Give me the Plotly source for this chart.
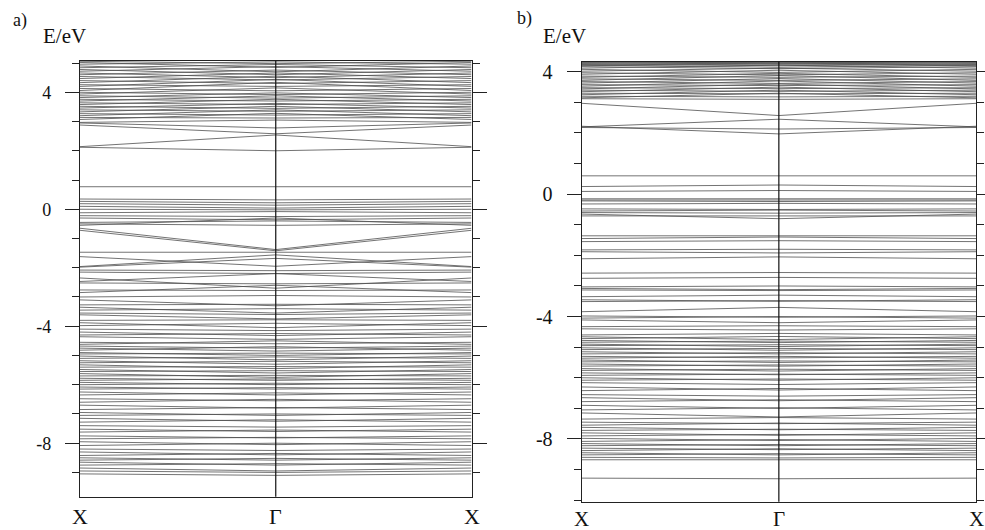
import plotly.graph_objects as go

# k-path: X - Gamma - X
k_labels = ["X", "Γ", "X"]
k_pos = [0, 1, 2]

# ---- panel a) band energies (eV) at X and at Gamma ----
a_E_X = [
    5.06, 5.02, 4.96, 4.90, 4.84, 4.78, 4.72, 4.66, 4.60, 4.54, 4.47, 4.40, 4.33, 4.26,
    4.20, 4.13, 4.06, 4.00, 3.94, 3.88, 3.82, 3.76, 3.70, 3.64, 3.58, 3.52, 3.46, 3.40,
    3.33, 3.27, 3.20, 3.14, 3.07, 2.97, 2.95, 2.88, 2.14, 2.12,
    0.77, 0.35, 0.27, 0.19, 0.10, 0.00, -0.12, -0.22, -0.30, -0.45, -0.50, -0.55, -0.65,
    -0.72, -1.47, -1.96, -1.98, -1.62, -2.08, -2.15, -2.47, -2.52, -2.35, -2.76, -2.85,
    -3.00, -3.10, -3.27, -3.35, -3.45, -3.55, -3.61, -3.80, -3.88, -3.98, -4.10, -4.20,
    -4.30, -4.36, -4.55, -4.62, -4.68, -4.75, -4.82, -4.90, -4.95, -5.02, -5.10, -5.18,
    -5.25, -5.32, -5.40, -5.48, -5.55, -5.62, -5.70, -5.78, -5.85, -5.92, -6.00, -6.08,
    -6.15, -6.25, -6.35, -6.48, -6.60, -6.70, -6.85, -6.95, -7.05, -7.15, -7.28, -7.40,
    -7.52, -7.62, -7.75, -7.85, -7.95, -8.08, -8.20, -8.30, -8.42, -8.50, -8.58, -8.65,
    -8.75, -8.85, -8.95, -9.05,
]
a_E_G = [
    4.98, 4.85, 5.04, 4.70, 4.95, 4.60, 4.88, 4.50, 4.76, 4.42, 4.66, 4.30, 4.55, 4.20,
    4.44, 4.05, 4.34, 3.92, 4.15, 3.80, 3.98, 3.70, 3.88, 3.58, 3.76, 3.45, 3.62, 3.35,
    3.52, 3.22, 3.40, 3.12, 3.28, 3.05, 2.78, 2.58, 2.54, 2.00,
    0.77, 0.32, 0.22, 0.14, 0.04, -0.02, -0.08, -0.25, -0.36, -0.40, -0.55, -0.30, -1.38,
    -1.42, -1.47, -1.56, -1.68, -1.95, -2.10, -2.20, -2.20, -2.55, -2.70, -2.78, -2.60,
    -2.95, -3.30, -3.25, -3.55, -3.40, -3.60, -3.75, -3.78, -4.05, -3.90, -4.15, -4.32,
    -4.25, -4.45, -4.60, -4.50, -4.75, -4.85, -4.70, -5.00, -4.92, -5.15, -5.05, -5.30,
    -5.20, -5.45, -5.38, -5.60, -5.52, -5.75, -5.68, -5.85, -5.80, -6.00, -5.95, -6.15,
    -6.10, -6.35, -6.28, -6.55, -6.50, -6.80, -6.78, -7.05, -7.00, -7.25, -7.20, -7.45,
    -7.60, -7.55, -7.82, -7.80, -8.05, -8.00, -8.25, -8.40, -8.35, -8.58, -8.52, -8.75,
    -8.70, -8.95, -9.00, -9.10,
]

# ---- panel b) band energies (eV) at X and at Gamma ----
b_E_X = [
    4.32, 4.30, 4.28, 4.26, 4.24, 4.22, 4.20, 4.17, 4.12, 4.08, 4.02, 3.97, 3.92, 3.86,
    3.82, 3.77, 3.72, 3.68, 3.63, 3.58, 3.53, 3.48, 3.44, 3.40, 3.35, 3.30, 3.25, 3.20,
    3.15, 3.12, 2.97, 2.20, 2.18, 2.22,
    0.60, 0.25, 0.09, -0.15, -0.19, -0.22, -0.32, -0.48, -0.55, -0.60, -0.65, -0.71,
    -1.36, -1.45, -1.55, -1.82, -1.88, -2.11, -2.58, -2.75, -3.03, -3.08, -3.13, -3.35,
    -3.45, -3.51, -3.84, -3.98, -4.05, -4.11, -4.33, -4.40,
    -4.60, -4.66, -4.72, -4.78, -4.84, -4.90, -4.95, -5.02, -5.08, -5.15, -5.22, -5.30,
    -5.36, -5.42, -5.48, -5.55, -5.62, -5.70, -5.76, -5.84, -5.92, -6.00, -6.08, -6.16,
    -6.30, -6.42, -6.55, -6.65, -6.78, -6.90, -7.05, -7.15,
    -7.35, -7.45, -7.55, -7.62, -7.72, -7.80, -7.90, -7.98, -8.08, -8.15, -8.22, -8.30,
    -8.38, -8.45, -8.52, -8.60, -8.68, -9.28,
]
b_E_G = [
    4.30, 4.25, 4.32, 4.20, 4.28, 4.15, 4.26, 4.10, 4.22, 3.98, 4.12, 3.90, 4.05, 3.82,
    3.95, 3.72, 3.88, 3.62, 3.78, 3.55, 3.70, 3.45, 3.60, 3.36, 3.50, 3.28, 3.40, 3.18,
    3.30, 3.10, 2.57, 2.45, 2.13, 1.97,
    0.61, 0.30, 0.12, -0.15, -0.19, -0.24, -0.30, -0.50, -0.52, -0.62, -0.80, -0.70,
    -1.36, -1.40, -1.52, -1.80, -1.92, -2.05, -2.56, -2.72, -3.00, -3.12, -3.15, -3.30,
    -3.50, -3.48, -3.70, -4.02, -4.00, -4.20, -4.30, -4.44,
    -4.55, -4.75, -4.65, -4.85, -4.80, -4.98, -4.92, -5.10, -5.04, -5.22, -5.18, -5.35,
    -5.30, -5.50, -5.45, -5.62, -5.58, -5.78, -5.72, -5.90, -5.88, -6.08, -6.04, -6.22,
    -6.40, -6.35, -6.60, -6.75, -6.72, -7.00, -6.98, -7.28,
    -7.30, -7.50, -7.48, -7.70, -7.68, -7.88, -7.85, -8.05, -8.02, -8.22, -8.18, -8.35,
    -8.32, -8.52, -8.48, -8.62, -8.68, -9.30,
]

# y tick labels
a_tickvals = [4, 0, -4, -8]
b_tickvals = [4, 0, -4, -8]
a_ticktext = ["4", "0", "-4", "-8"]
b_ticktext = ["4", "0", "-4", "-8"]
a_yrange = [-9.83, 5.08]
b_yrange = [-10.05, 4.33]

SERIF = "Liberation Serif"
LINE_COLOR = "rgba(80,80,80,0.8)"


def band_xy(ex, eg):
    xs, ys = [], []
    for e1, e2 in zip(ex, eg):
        xs += [k_pos[0], k_pos[1], k_pos[2], None]
        ys += [e1, e2, e1, None]
    return xs, ys


fig = go.Figure()
xa, ya = band_xy(a_E_X, a_E_G)
fig.add_trace(go.Scatter(x=xa, y=ya, mode="lines", xaxis="x", yaxis="y",
                         line=dict(color=LINE_COLOR, width=1), hoverinfo="skip",
                         showlegend=False))
xb, yb = band_xy(b_E_X, b_E_G)
fig.add_trace(go.Scatter(x=xb, y=yb, mode="lines", xaxis="x2", yaxis="y2",
                         line=dict(color=LINE_COLOR, width=1), hoverinfo="skip",
                         showlegend=False))

W, H = 985, 530


def xdom(l, r):
    return [l / W, r / W]


def ydom(t, b):
    return [1 - b / H, 1 - t / H]


axis_common = dict(showline=True, linecolor="#222", linewidth=1.3, mirror=True,
                   showgrid=False, zeroline=False, automargin=False)

xcommon = dict(axis_common, range=[0, 2], tickmode="array", tickvals=k_pos,
               ticks="", showticklabels=False)


def ycommon(rng, tv, tt, fs, standoff):
    return dict(axis_common, range=rng, tickmode="array", tickvals=tv, ticktext=tt,
                ticks="outside", ticklen=14, tickwidth=1.4, tickcolor="#222",
                mirror="ticks",
                minor=dict(ticks="outside", ticklen=7, tickwidth=1.4, tickcolor="#222",
                           tickmode="linear", tick0=0, dtick=1, showgrid=False),
                tickfont=dict(family=SERIF, size=fs, color="#111"),
                ticklabelstandoff=standoff)


annotations = [
    dict(text="a)", x=11 / W, y=1 - 21 / H, xref="paper", yref="paper", xanchor="left",
         yanchor="middle", showarrow=False, font=dict(family=SERIF, size=18, color="#111")),
    dict(text="E/eV", x=41 / W, y=1 - 36 / H, xref="paper", yref="paper", xanchor="left",
         yanchor="middle", showarrow=False, font=dict(family=SERIF, size=21, color="#111")),
    dict(text="b)", x=515 / W, y=1 - 19 / H, xref="paper", yref="paper", xanchor="left",
         yanchor="middle", showarrow=False, font=dict(family=SERIF, size=18, color="#111")),
    dict(text="E/eV", x=541 / W, y=1 - 36 / H, xref="paper", yref="paper", xanchor="left",
         yanchor="middle", showarrow=False, font=dict(family=SERIF, size=21, color="#111")),
]
# k-point labels below each panel
for xref, ycen, fs in (("x", 516.0, 22), ("x2", 519.0, 21)):
    for kp, kl in zip(k_pos, k_labels):
        annotations.append(dict(text=kl, x=kp, y=1 - ycen / H, xref=xref, yref="paper",
                                xanchor="center", yanchor="middle", showarrow=False,
                                font=dict(family=SERIF, size=fs, color="#111")))

fig.update_layout(
    width=W, height=H,
    margin=dict(l=0, r=0, t=0, b=0, autoexpand=False),
    paper_bgcolor="white", plot_bgcolor="white",
    xaxis=dict(xcommon, domain=xdom(80, 471.5), anchor="y"),
    yaxis=dict(ycommon(a_yrange, a_tickvals, a_ticktext, 18, 10), domain=ydom(60.7, 496.7), anchor="x"),
    xaxis2=dict(xcommon, domain=xdom(581.7, 976), anchor="y2"),
    yaxis2=dict(ycommon(b_yrange, b_tickvals, b_ticktext, 20, 10), domain=ydom(61.7, 501.7), anchor="x2"),
    shapes=[
        dict(type="line", xref="x", yref="y domain", x0=k_pos[1], x1=k_pos[1], y0=0, y1=1,
             line=dict(color="#111", width=1.2)),
        dict(type="line", xref="x2", yref="y2 domain", x0=k_pos[1], x1=k_pos[1], y0=0, y1=1,
             line=dict(color="#111", width=1.2)),
    ],
    annotations=annotations,
)

fig.write_html("out.html")
